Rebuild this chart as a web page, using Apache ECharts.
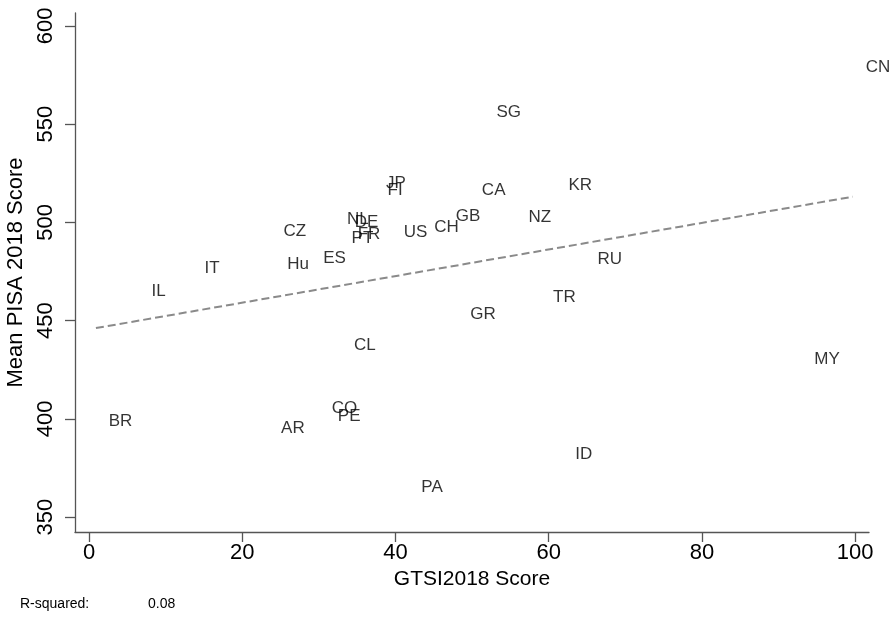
<!DOCTYPE html>
<html>
<head>
<meta charset="utf-8">
<script src="https://cdn.jsdelivr.net/npm/echarts@6/dist/echarts.min.js"></script>
<style>
  html, body { margin: 0; padding: 0; background: #fff; }
  #main { width: 893px; height: 623px; }
</style>
</head>
<body>
<div id="main"></div>
<script>
// country codes, GTSI2018 score, mean PISA 2018 score
const codes = ['CN', 'SG', 'JP', 'FI', 'CA', 'KR', 'NZ', 'GB', 'CH', 'US',
  'NL', 'DE', 'FR', 'PT', 'CZ', 'Hu', 'ES', 'IT', 'IL', 'CL',
  'GR', 'TR', 'RU', 'MY', 'CO', 'PE', 'AR', 'BR', 'PA', 'ID'];
const gtsi = [100, 51.8, 37.4, 37.6, 49.9, 61.2, 56.0, 46.5, 43.7, 39.7,
  32.3, 33.3, 33.7, 32.9, 24.0, 24.5, 29.2, 13.7, 6.8, 33.2,
  48.4, 59.2, 65.0, 93.3, 30.3, 31.1, 23.7, 1.2, 42.0, 62.1];
const pisa = [578.7, 556, 520, 516.5, 516.5, 518.8, 502.6, 503, 497.5, 495,
  501.8, 500.2, 494, 492, 495.3, 478.5, 481.7, 476.6, 464.7, 437.3,
  453, 462, 481, 430.4, 405.5, 401.5, 395, 399, 365, 381.8];

// fitted line end points
const fitX = [0.9, 99.7];
const fitY = [446.2, 513.1];

const xTicks = [0, 20, 40, 60, 80, 100];
const yTicks = [350, 400, 450, 500, 550, 600];
const rSquared = '0.08';

const font = "'Liberation Sans', Arial, sans-serif";

let points = codes.map((c, i) => ({ name: c, value: [gtsi[i], pisa[i]] }));
let fit = fitX.map((x, i) => [x, fitY[i]]);

let myChart = echarts.init(document.getElementById('main'));

let options = {
  backgroundColor: '#fff',
  animation: false,
  grid: { left: 75, right: 24, top: 13, bottom: 91, outerBoundsMode: 'none' },
  xAxis: {
    type: 'value',
    min: -1.83,
    max: 101.8,
    name: 'GTSI2018 Score',
    nameLocation: 'middle',
    nameGap: 36,
    nameTextStyle: { fontFamily: font, fontSize: 21, color: '#000' },
    axisLine: { onZero: false, lineStyle: { color: '#555', width: 1.3 } },
    axisTick: { show: true, customValues: xTicks, length: 10, lineStyle: { color: '#555', width: 1.3 } },
    axisLabel: { customValues: xTicks, fontFamily: font, fontSize: 22, color: '#000', margin: 10 },
    splitLine: { show: false }
  },
  yAxis: {
    type: 'value',
    min: 342.4,
    max: 606.6,
    name: 'Mean PISA 2018 Score',
    nameLocation: 'middle',
    nameGap: 45,
    nameTextStyle: { fontFamily: font, fontSize: 22, color: '#000' },
    axisLine: { onZero: false, lineStyle: { color: '#555', width: 1.3 } },
    axisTick: { show: true, customValues: yTicks, length: 10, lineStyle: { color: '#555', width: 1.3 } },
    axisLabel: { customValues: yTicks, rotate: 90, fontFamily: font, fontSize: 22, color: '#000', margin: 18 },
    splitLine: { show: false }
  },
  graphic: [
    { type: 'text', left: 20, top: 597, style: { text: 'R-squared:', font: '14px ' + font, fill: '#000' } },
    { type: 'text', left: 148, top: 597, style: { text: rSquared, font: '14px ' + font, fill: '#000' } }
  ],
  series: [
    {
      type: 'line',
      data: fit,
      symbol: 'none',
      silent: true,
      lineStyle: { color: '#8a8a8a', width: 2, type: [8, 4] }
    },
    {
      type: 'scatter',
      data: points,
      symbol: 'circle',
      symbolSize: 1,
      itemStyle: { color: 'rgba(0,0,0,0)' },
      label: {
        show: true,
        position: 'right',
        distance: 10,
        formatter: (p) => p.name,
        fontFamily: font,
        fontSize: 17,
        color: '#000'
      }
    }
  ]
};
myChart.setOption(options);
</script>
</body>
</html>
